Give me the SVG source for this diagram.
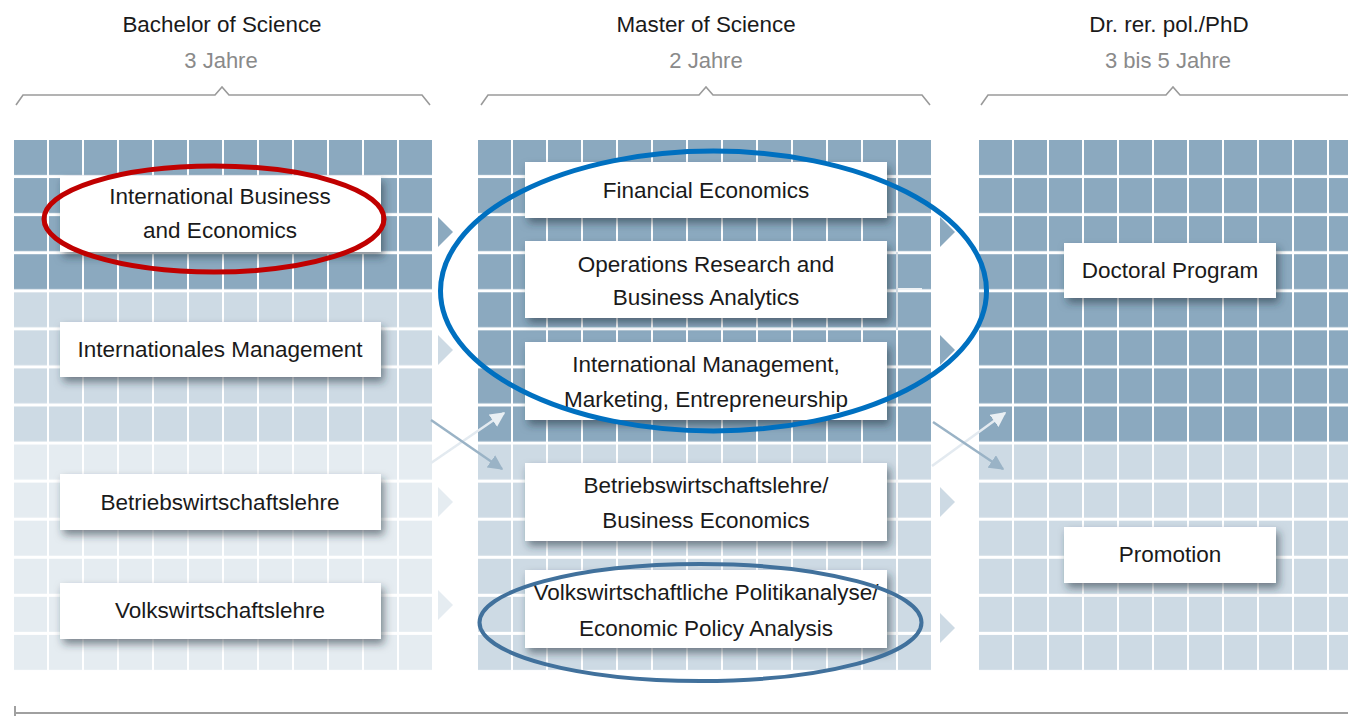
<svg xmlns="http://www.w3.org/2000/svg" width="1348" height="716" viewBox="0 0 1348 716">
<defs>
<style>
.t{font-family:"Liberation Sans",Arial,sans-serif;font-size:22.5px;fill:#1a1a1a;text-anchor:middle}
.h{font-family:"Liberation Sans",Arial,sans-serif;font-size:22.4px;fill:#1a1a1a;text-anchor:middle}
.s{font-family:"Liberation Sans",Arial,sans-serif;font-size:22px;fill:#8a8a8a;text-anchor:middle}
.box{fill:#ffffff;filter:url(#sh)}
.brace{fill:none;stroke:#9a9a9a;stroke-width:1.6}
.dk{fill:#8ba9bf}
.md{fill:#cddae4}
.lt{fill:#e5ecf1}
.ring{fill:none}
</style>
<pattern id="gl" patternUnits="userSpaceOnUse" width="35" height="38.07">
<rect x="33" y="0" width="2" height="38.07" fill="#ffffff"/>
<rect x="0" y="35" width="35" height="3.07" fill="#ffffff"/>
</pattern>
<filter id="sh" x="-10%" y="-30%" width="125%" height="170%">
<feDropShadow dx="3" dy="5" stdDeviation="4.5" flood-color="#1f2d3a" flood-opacity="0.55"/>
</filter>
<marker id="mdk" viewBox="0 0 10 10" refX="9" refY="5" markerWidth="6" markerHeight="6" orient="auto" markerUnits="strokeWidth">
<path d="M0,0 L10,5 L0,10 Z" fill="#9ab3c6"/>
</marker>
<marker id="mlt" viewBox="0 0 10 10" refX="9" refY="5" markerWidth="6" markerHeight="6" orient="auto" markerUnits="strokeWidth">
<path d="M0,0 L10,5 L0,10 Z" fill="#eaf0f4"/>
</marker>
</defs>
<rect width="1348" height="716" fill="#ffffff"/>

<g id="headers">
<text class="h" x="222" y="32">Bachelor of Science</text>
<text class="s" x="221" y="68">3 Jahre</text>
<path class="brace" d="M16,105 L23,95 L215,95 L222,87 L229,95 L422,95 L430,105"/>
<text class="h" x="706" y="32">Master of Science</text>
<text class="s" x="706" y="68">2 Jahre</text>
<path class="brace" d="M481,105 L488,95 L699,95 L706,87 L713,95 L922,95 L930,105"/>
<text class="h" x="1169" y="32">Dr. rer. pol./PhD</text>
<text class="s" x="1168" y="68">3 bis 5 Jahre</text>
<path class="brace" d="M981,105 L988,95 L1166,95 L1173,87 L1180,95 L1348,95"/>
</g>

<g id="grid-bachelor" transform="translate(14,140)">
<rect class="dk" x="0" y="0" width="418" height="152.28"/>
<rect class="md" x="0" y="152.28" width="418" height="152.28"/>
<rect class="lt" x="0" y="304.56" width="418" height="225.5"/>
<rect x="0" y="0" width="418" height="530" fill="url(#gl)"/>
</g>
<g id="grid-master" transform="translate(478,140)">
<rect class="dk" x="0" y="0" width="453" height="304.56"/>
<rect class="md" x="0" y="304.56" width="453" height="225.5"/>
<rect x="0" y="0" width="453" height="530" fill="url(#gl)"/>
</g>
<g id="grid-phd" transform="translate(979,140)">
<rect class="dk" x="0" y="0" width="380" height="304.56"/>
<rect class="md" x="0" y="304.56" width="380" height="225.5"/>
<rect x="0" y="0" width="380" height="530" fill="url(#gl)"/>
</g>

<g id="connectors">
<polygon points="438,217 438,247 453,232" fill="#8ba9bf"/>
<polygon points="438,335 438,365 453,350" fill="#cddae4"/>
<polygon points="438,487 438,517 453,502" fill="#e5ecf1"/>
<polygon points="438,590 438,620 453,605" fill="#e5ecf1"/>
<polygon points="940,217 940,247 955,232" fill="#8ba9bf"/>
<polygon points="940,335 940,365 955,350" fill="#8ba9bf"/>
<polygon points="940,487 940,517 955,502" fill="#cddae4"/>
<polygon points="940,613 940,643 955,628" fill="#cddae4"/>
<line x1="431" y1="463" x2="504" y2="413" stroke="#e3eaf0" stroke-width="2.5" marker-end="url(#mlt)"/>
<line x1="431" y1="420" x2="502" y2="469" stroke="#9ab3c6" stroke-width="2.5" marker-end="url(#mdk)"/>
<line x1="932" y1="466" x2="1005" y2="413" stroke="#e3eaf0" stroke-width="2.5" marker-end="url(#mlt)"/>
<line x1="933" y1="422" x2="1003" y2="469" stroke="#9ab3c6" stroke-width="2.5" marker-end="url(#mdk)"/>
<line x1="898" y1="289" x2="922" y2="289" stroke="#eef2f5" stroke-width="2"/>
<line x1="897" y1="252" x2="897" y2="330" stroke="#c9d6e0" stroke-width="1.5"/>
</g>

<g id="node-ibe">
<rect class="box" x="60" y="176" width="321" height="76"/>
<text class="t" x="220" y="204">International Business</text>
<text class="t" x="220" y="238">and Economics</text>
</g>
<g id="node-im">
<rect class="box" x="60" y="322" width="321" height="55"/>
<text class="t" x="220" y="357">Internationales Management</text>
</g>
<g id="node-bwl">
<rect class="box" x="60" y="474" width="321" height="56"/>
<text class="t" x="220" y="510">Betriebswirtschaftslehre</text>
</g>
<g id="node-vwl">
<rect class="box" x="60" y="583" width="321" height="56"/>
<text class="t" x="220" y="618">Volkswirtschaftslehre</text>
</g>

<g id="node-fe">
<rect class="box" x="525" y="162" width="362" height="56"/>
<text class="t" x="706" y="198">Financial Economics</text>
</g>
<g id="node-orba">
<rect class="box" x="525" y="241" width="362" height="77"/>
<text class="t" x="706" y="272">Operations Research and</text>
<text class="t" x="706" y="305">Business Analytics</text>
</g>
<g id="node-imme">
<rect class="box" x="525" y="342" width="362" height="78"/>
<text class="t" x="706" y="372">International Management,</text>
<text class="t" x="706" y="407">Marketing, Entrepreneurship</text>
</g>
<g id="node-bwl-be">
<rect class="box" x="525" y="463" width="362" height="78"/>
<text class="t" x="706" y="493">Betriebswirtschaftslehre/</text>
<text class="t" x="706" y="528">Business Economics</text>
</g>
<g id="node-vpa">
<rect class="box" x="525" y="570" width="362" height="78"/>
<text class="t" x="706" y="600">Volkswirtschaftliche Politikanalyse/</text>
<text class="t" x="706" y="636">Economic Policy Analysis</text>
</g>

<g id="node-doctoral">
<rect class="box" x="1064" y="243" width="212" height="55"/>
<text class="t" x="1170" y="278">Doctoral Program</text>
</g>
<g id="node-promotion">
<rect class="box" x="1064" y="527" width="212" height="56"/>
<text class="t" x="1170" y="562">Promotion</text>
</g>

<g id="highlights">
<ellipse class="ring" cx="214" cy="219" rx="170" ry="53" stroke="#c00000" stroke-width="5"/>
<ellipse class="ring" cx="713.5" cy="291" rx="273" ry="140" stroke="#0070c0" stroke-width="5"/>
<ellipse class="ring" cx="700.5" cy="622.5" rx="221" ry="58.5" stroke="#41719c" stroke-width="4"/>
</g>

<g id="timeline">
<line x1="14" y1="713" x2="1348" y2="713" stroke="#a0a0a0" stroke-width="2"/>
<line x1="15" y1="706" x2="15" y2="716" stroke="#a0a0a0" stroke-width="2"/>
</g>
</svg>
